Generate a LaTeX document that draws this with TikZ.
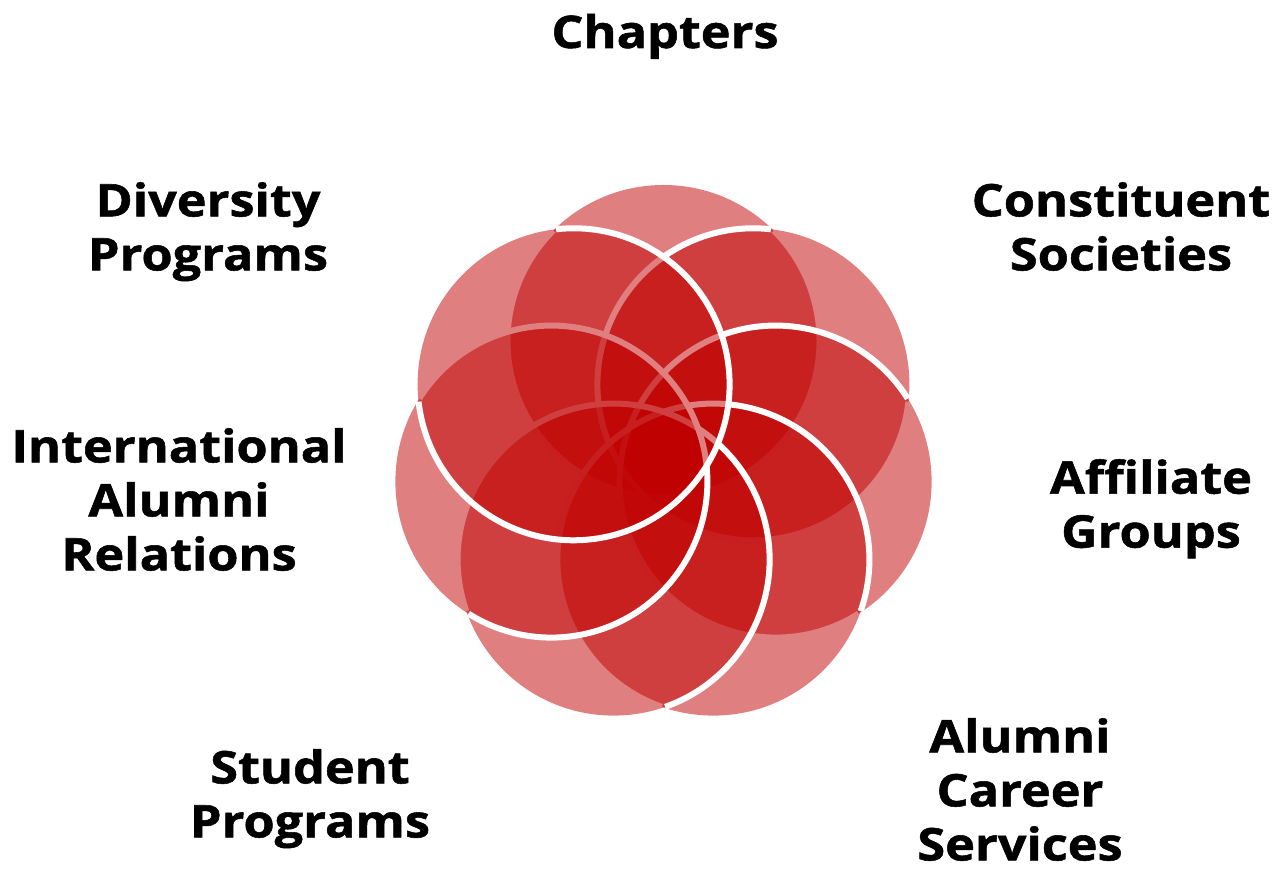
\documentclass[tikz,border=0pt]{standalone}
\usepackage{fontspec}
\newfontfamily\lblfont{Open Sans}[FakeStretch=1.12, BoldFeatures={FakeBold=1.2}]
\usetikzlibrary{calc}
\definecolor{petal}{RGB}{192,0,0}
\tikzset{
  petalfill/.style={fill=petal, fill opacity=0.5},
  petaledge/.style={draw=white, line width=6pt},
  lbl/.style={font=\lblfont\fontsize{45}{54}\selectfont\bfseries, align=center, text=black, inner sep=0pt}
}
\begin{document}
\begin{tikzpicture}[x=1pt,y=1pt]
\useasboundingbox (0,0) rectangle (1280,869);
\foreach \k in {0,...,6}{
  \pgfmathsetmacro\th{\k*360/7}
  \pgfmathsetmacro\ph{90-\th}
  \coordinate (c\k) at ({663.5+115*sin(\th)},{413+115*cos(\th)});
  \fill[petalfill] (c\k) circle[radius=156];
  \draw[petaledge] ($(c\k)+({\ph+45}:156)$) arc[start angle={\ph+45}, end angle={\ph+315}, radius=156];
}
\node[lbl, anchor=base] (chapters) at (665,821) {Chapters};
\node[lbl, anchor=north] (diversity) at (208,687) {Diversity\\Programs};
\node[lbl, anchor=north] (constituent) at (1121,687) {Constituent\\Societies};
\node[lbl, anchor=north] (international) at (179,441) {International\\Alumni\\Relations};
\node[lbl, anchor=north] (affiliate) at (1151,410) {Affiliate\\Groups};
\node[lbl, anchor=north] (student) at (310,120) {Student\\Programs};
\node[lbl, anchor=north] (career) at (1020,151) {Alumni\\Career\\Services};
\end{tikzpicture}
\end{document}
